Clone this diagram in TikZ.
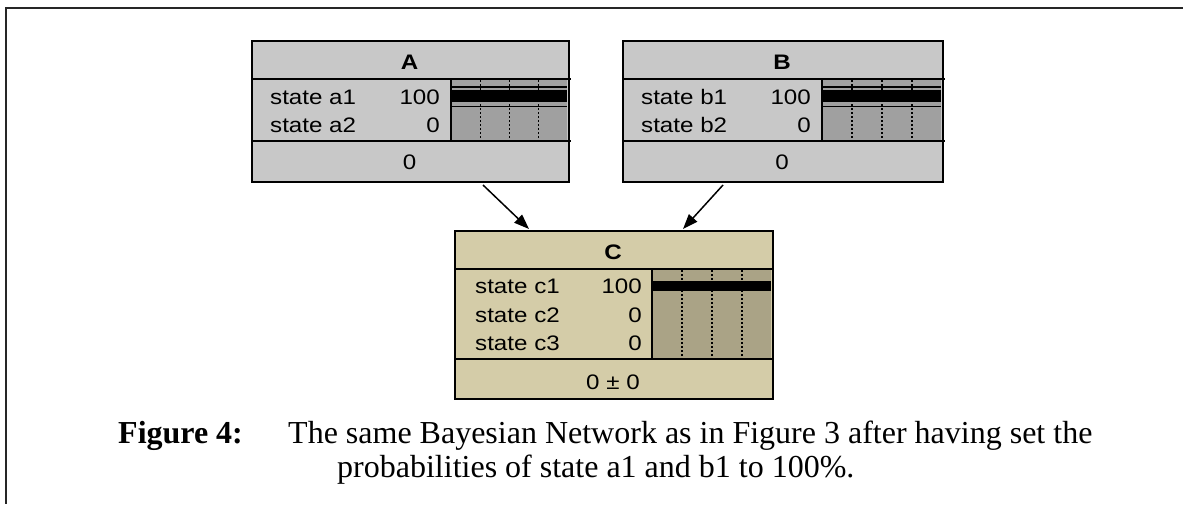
\documentclass[tikz,border=0pt]{standalone}
\usepackage{fontspec}
\setmainfont{Liberation Serif}
\newfontfamily\netfont[FakeStretch=1.15]{Liberation Sans}
\usetikzlibrary{arrows.meta,calc}

\definecolor{paleGray}{RGB}{200,200,200}
\definecolor{barGray}{RGB}{160,160,160}
\definecolor{paleTan}{RGB}{212,204,168}
\definecolor{barTan}{RGB}{170,163,134}

\tikzset{
  netnode/.style={draw, line width=2pt, inner sep=0pt, anchor=north west},
  rule/.style={line width=2pt},
  tick/.style={line width=1.3pt, dash pattern=on 2pt off 2pt},
  lbl/.style={inner sep=0pt, font=\netfont\fontsize{21}{25}\selectfont},
  ttl/.style={inner sep=0pt, font=\netfont\bfseries\fontsize{21}{25}\selectfont},
  link/.style={line width=1.5pt, -{Triangle[length=15pt,width=11pt]}},
  captext/.style={inner sep=0pt, anchor=base west, font=\fontsize{32}{36}\selectfont}
}

% Two-state node: #1 name, #2/#3 top-left corner, #4 width, #5 title, #6/#7 states
\newcommand\twostate[7]{%
\begin{scope}[shift={(#2,#3)}]
  \node[netnode, fill=paleGray, minimum width=#4pt, minimum height=141pt] (#1) at (0,0) {};
  \fill[barGray] (200,40) rectangle ({#4-1},100);
  \foreach \f in {0.25,0.5,0.75}
    \draw[tick] ({200+\f*(#4-200)},40) -- ({200+\f*(#4-200)},100);
  \fill[black] (200,50) rectangle ({#4-1},62);
  \draw[line width=1.2pt] (200,47) -- ({#4-1},47);
  \draw[line width=1.2pt] (200,66.5) -- ({#4-1},66.5);
  \draw[rule] (0,39) -- ({#4+3},39);
  \draw[rule] (0,101) -- ({#4+3},101);
  \draw[rule] (200,39) -- (200,101);
  \node[ttl, anchor=base] at ({#4/2},29.5) {#5};
  \node[lbl, anchor=base west] at (19,64.5) {state #61};
  \node[lbl, anchor=base east] at (189,64.5) {100};
  \node[lbl, anchor=base west] at (19,92.5) {state #62};
  \node[lbl, anchor=base east] at (189,92.5) {0};
  \node[lbl, anchor=base] at ({#4/2},129.5) {0};
\end{scope}}

\begin{document}
\begin{tikzpicture}[x=1pt,y=-1pt]
  \useasboundingbox (0,0) rectangle (1183,504);
  \fill[white] (0,0) rectangle (1183,504);

  % frame of the figure
  \draw[line width=2pt, black!85] (1183,8) -- (6,8) -- (6,504);

  \twostate{A}{251}{40}{317}{A}{a}{a}
  \twostate{B}{622}{40}{320}{B}{b}{b}

  % three-state child node C
  \begin{scope}[shift={(454,230)}]
    \node[netnode, fill=paleTan, minimum width=318pt, minimum height=168pt] (C) at (0,0) {};
    \fill[barTan] (198,40) rectangle (317,128);
    \foreach \f in {0.25,0.5,0.75}
      \draw[tick] ({198+\f*120},40) -- ({198+\f*120},128);
    \fill[black] (198,51) rectangle (317,61);
    \draw[rule] (0,39) -- (320,39);
    \draw[rule] (0,129) -- (320,129);
    \draw[rule] (198,39) -- (198,129);
    \node[ttl, anchor=base] at (159,29.5) {C};
    \node[lbl, anchor=base west] at (21,63.5) {state c1};
    \node[lbl, anchor=base east] at (188,63.5) {100};
    \node[lbl, anchor=base west] at (21,92.5) {state c2};
    \node[lbl, anchor=base east] at (188,92.5) {0};
    \node[lbl, anchor=base west] at (21,120.5) {state c3};
    \node[lbl, anchor=base east] at (188,120.5) {0};
    \node[lbl, anchor=base] at (159,159.5) {0 ± 0};
  \end{scope}

  % dependencies
  \draw[link] ($(A.south west)+(232,2)$) -- ($(C.north west)+(75,-1)$);
  \draw[link] ($(B.south west)+(101,2)$) -- ($(C.north west)+(229,-1)$);

  % caption
  \node[captext, font=\bfseries\fontsize{32}{36}\selectfont] (figlabel) at (118,443) {Figure 4:};
  \node[captext] (capline1) at (288,443) {The same Bayesian Network as in Figure 3 after having set the};
  \node[captext] (capline2) at (337,477) {probabilities of state a1 and b1 to 100\%.};
\end{tikzpicture}
\end{document}
